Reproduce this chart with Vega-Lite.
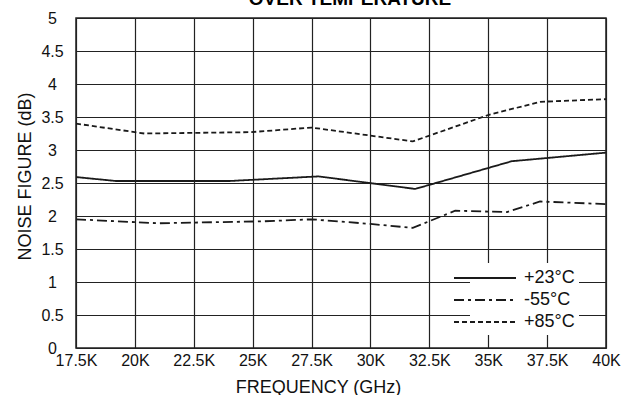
{
  "$schema": "https://vega.github.io/schema/vega-lite/v6.json",
  "width": 530,
  "height": 330,
  "autosize": {"type": "none"},
  "padding": {"left": 76, "top": 18, "right": 20, "bottom": 47},
  "background": "white",
  "title": {
    "text": "OVER TEMPERATURE",
    "font": "Liberation Sans",
    "fontSize": 19,
    "fontWeight": "bold",
    "color": "black",
    "anchor": "middle",
    "baseline": "alphabetic",
    "offset": -13.5,
    "dx": 9
  },
  "config": {
    "view": {"stroke": "#222222", "strokeWidth": 1.5},
    "font": "Liberation Sans"
  },
  "data": {
    "values": [
      {"f": 17.5, "nf": 2.59, "t": "+23°C"},
      {"f": 19.2, "nf": 2.53, "t": "+23°C"},
      {"f": 24.0, "nf": 2.53, "t": "+23°C"},
      {"f": 27.8, "nf": 2.60, "t": "+23°C"},
      {"f": 31.9, "nf": 2.41, "t": "+23°C"},
      {"f": 36.0, "nf": 2.83, "t": "+23°C"},
      {"f": 40.0, "nf": 2.96, "t": "+23°C"},
      {"f": 17.5, "nf": 1.95, "t": "-55°C"},
      {"f": 21.0, "nf": 1.89, "t": "-55°C"},
      {"f": 25.5, "nf": 1.92, "t": "-55°C"},
      {"f": 27.5, "nf": 1.95, "t": "-55°C"},
      {"f": 30.0, "nf": 1.88, "t": "-55°C"},
      {"f": 31.8, "nf": 1.82, "t": "-55°C"},
      {"f": 33.6, "nf": 2.08, "t": "-55°C"},
      {"f": 35.8, "nf": 2.06, "t": "-55°C"},
      {"f": 37.2, "nf": 2.22, "t": "-55°C"},
      {"f": 40.0, "nf": 2.18, "t": "-55°C"},
      {"f": 17.5, "nf": 3.40, "t": "+85°C"},
      {"f": 20.4, "nf": 3.25, "t": "+85°C"},
      {"f": 24.9, "nf": 3.27, "t": "+85°C"},
      {"f": 27.5, "nf": 3.34, "t": "+85°C"},
      {"f": 31.8, "nf": 3.13, "t": "+85°C"},
      {"f": 35.0, "nf": 3.53, "t": "+85°C"},
      {"f": 37.2, "nf": 3.73, "t": "+85°C"},
      {"f": 40.0, "nf": 3.77, "t": "+85°C"}
    ]
  },
  "mark": {"type": "line", "color": "#1a1a1a", "strokeWidth": 1.8, "clip": true},
  "encoding": {
    "x": {
      "field": "f",
      "type": "quantitative",
      "scale": {"domain": [17.5, 40], "nice": false, "zero": false},
      "axis": {
        "values": [17.5, 20, 22.5, 25, 27.5, 30, 32.5, 35, 37.5, 40],
        "labelExpr": "datum.value + 'K'",
        "grid": true,
        "gridColor": "#222222",
        "gridWidth": 1.2,
        "gridOpacity": 1,
        "domain": false,
        "ticks": false,
        "labelPadding": 4,
        "labelFontSize": 16,
        "labelColor": "#111111",
        "labelFlush": false,
        "title": "FREQUENCY (GHz)",
        "titleFontSize": 18,
        "titleFontWeight": "normal",
        "titleColor": "#111111",
        "titleX": 242,
        "titleY": 44,
        "titleAlign": "center",
        "titleBaseline": "alphabetic"
      }
    },
    "y": {
      "field": "nf",
      "type": "quantitative",
      "scale": {"domain": [0, 5], "nice": false},
      "axis": {
        "values": [0, 0.5, 1, 1.5, 2, 2.5, 3, 3.5, 4, 4.5, 5],
        "format": ".1~f",
        "grid": true,
        "gridColor": "#222222",
        "gridWidth": 1.2,
        "gridOpacity": 1,
        "domain": false,
        "ticks": false,
        "labelAlign": "center",
        "labelPadding": 24,
        "labelFontSize": 16,
        "labelColor": "#111111",
        "labelFlush": false,
        "title": "NOISE FIGURE (dB)",
        "titleFontSize": 18,
        "titleFontWeight": "normal",
        "titleColor": "#111111",
        "titleAngle": -90,
        "titleX": -46,
        "titleY": 158,
        "titleAlign": "center",
        "titleBaseline": "alphabetic"
      }
    },
    "strokeDash": {
      "field": "t",
      "type": "nominal",
      "scale": {
        "domain": ["+23°C", "-55°C", "+85°C"],
        "range": [[1, 0], [10, 4, 3, 4], [5, 3]]
      },
      "legend": {
        "title": null,
        "orient": "none",
        "legendX": 394,
        "legendY": 245,
        "fillColor": "white",
        "strokeColor": null,
        "padding": 4,
        "symbolType": "M-3.1,0H3.1",
        "symbolSize": 400,
        "symbolStrokeWidth": 1.8,
        "symbolStrokeColor": "#1a1a1a",
        "symbolFillColor": "transparent",
        "labelFontSize": 18,
        "labelColor": "#111111",
        "labelOffset": 28,
        "rowPadding": 2,
        "labelLimit": 200
      }
    }
  }
}
